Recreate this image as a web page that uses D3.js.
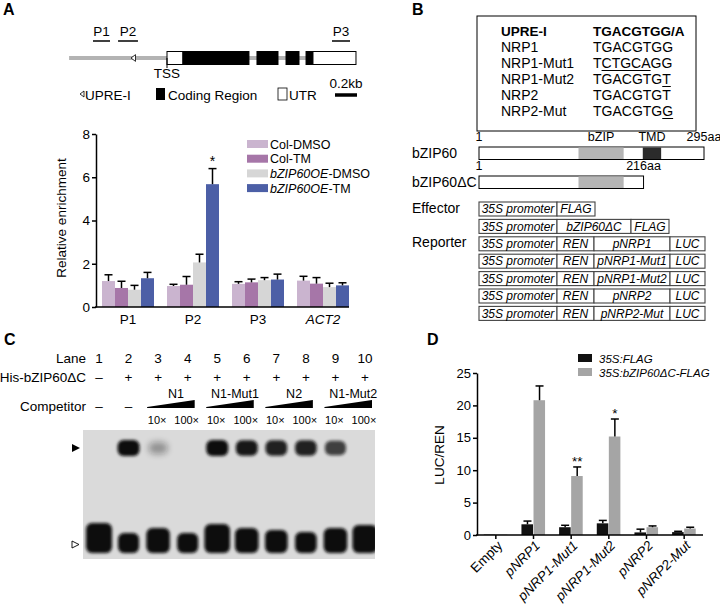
<!DOCTYPE html>
<html>
<head>
<meta charset="utf-8">
<script src="https://cdn.jsdelivr.net/npm/d3@7/dist/d3.min.js"></script>
<style>
  body { margin: 0; background: #fff; }
  svg { font-family: Arial, "Liberation Sans", sans-serif; }
</style>
</head>
<body>
<svg id="fig" width="720" height="605"></svg>
<script>
// ---------- A: gene model (bp relative to TSS) ----------
const geneSpan = [-890, 1718];
const upreSite = -309;
const exonTypes = ['utr', 'cds', 'cds', 'cds', 'cds', 'utr'];
const exonStarts = [0, 145, 818, 1082, 1264, 1327];
const exonEnds = [145, 745, 1009, 1200, 1327, 1718];
const primerNames = ['P1', 'P2', 'P3'];
const primerStarts = [-673, -445, 1500];
const primerEnds = [-518, -264, 1664];

// ---------- A: ChIP-qPCR ----------
const chipSites = ['P1', 'P2', 'P3', 'ACT2'];
const chipSeries = ['Col-DMSO', 'Col-TM', 'bZIP60OE-DMSO', 'bZIP60OE-TM'];
const chipMean = [
  [1.2, 0.88, 0.8, 1.33],
  [0.97, 1.03, 2.06, 5.68],
  [1.07, 1.14, 1.24, 1.27],
  [1.22, 1.08, 0.92, 1.0]
];
const chipErr = [
  [0.29, 0.31, 0.2, 0.27],
  [0.08, 0.38, 0.38, 0.72],
  [0.1, 0.15, 0.12, 0.25],
  [0.2, 0.28, 0.18, 0.12]
];
const chipStars = [['', '', '', ''], ['', '', '', '*'], ['', '', '', ''], ['', '', '', '']];
const chipYTicks = [0, 2, 4, 6, 8];

// ---------- B: motifs and constructs ----------
const motifNames = ['NRP1', 'NRP1-Mut1', 'NRP1-Mut2', 'NRP2', 'NRP2-Mut'];
const motifSeqs = ['TGACGTGG', 'TCTGCAGG', 'TGACGTGT', 'TGACGTGT', 'TGACGTGG'];
const motifMutated = [null, [1, 6], [7, 8], null, [7, 8]];
const proteinNames = ['bZIP60', 'bZIP60\u0394C'];
const proteinLengths = [295, 216];
const bzipDomain = [131, 190];
const tmdDomain = [215, 239];
const constructs = [
  ['35S promoter', 'FLAG'],
  ['35S promoter', 'bZIP60\u0394C', 'FLAG'],
  ['35S promoter', 'REN', 'pNRP1', 'LUC'],
  ['35S promoter', 'REN', 'pNRP1-Mut1', 'LUC'],
  ['35S promoter', 'REN', 'pNRP1-Mut2', 'LUC'],
  ['35S promoter', 'REN', 'pNRP2', 'LUC'],
  ['35S promoter', 'REN', 'pNRP2-Mut', 'LUC']
];

// ---------- C: EMSA ----------
const lanes = [1, 2, 3, 4, 5, 6, 7, 8, 9, 10];
const proteinAdded = ['\u2013', '+', '+', '+', '+', '+', '+', '+', '+', '+'];
const competitorNames = ['N1', 'N1-Mut1', 'N2', 'N1-Mut2'];
const competitorLanes = [[3, 4], [5, 6], [7, 8], [9, 10]];
const competitorDose = ['', '', '10\u00d7', '100\u00d7', '10\u00d7', '100\u00d7', '10\u00d7', '100\u00d7', '10\u00d7', '100\u00d7'];
const shiftedBand = [0, 1, 0.35, 0, 1, 0.95, 0.9, 0.9, 0.75, 0];
const freeProbe = [1, 0.5, 0.75, 0.5, 0.95, 0.75, 0.65, 0.55, 0.75, 0.9];

// ---------- D: dual luciferase ----------
const lucGroups = ['Empty', 'pNRP1', 'pNRP1-Mut1', 'pNRP1-Mut2', 'pNRP2', 'pNRP2-Mut'];
const lucSeries = ['35S:FLAG', '35S:bZIP60\u0394C-FLAG'];
const lucMean = [[0.06, 0.06], [1.65, 20.8], [1.2, 9.1], [1.8, 15.2], [0.4, 1.2], [0.45, 1.0]];
const lucErr = [[0, 0], [0.5, 2.2], [0.3, 1.4], [0.45, 2.7], [0.5, 0.2], [0.12, 0.2]];
const lucStars = [['', ''], ['', ''], ['', '**'], ['', '*'], ['', ''], ['', '']];
const lucYTicks = [0, 5, 10, 15, 20, 25];

const chipColors = ['#cab4cf', '#a676a8', '#d6d6d6', '#4c5fa6'];
const lucColors = ['#111111', '#a5a5a5'];

const svg = d3.select('#fig');
const defs = svg.append('defs');
[['blurBand', 1.6], ['blurFaint', 3]].forEach(([id, s]) => {
  defs.append('filter').attr('id', id).attr('x', '-50%').attr('y', '-50%')
    .attr('width', '200%').attr('height', '200%')
    .append('feGaussianBlur').attr('stdDeviation', s);
});

// panel letters
svg.selectAll('text.panel').data([['A', 3, 15], ['B', 412, 15], ['C', 4, 345], ['D', 427, 345]]).join('text')
  .classed('panel', true)
  .attr('x', (d) => d[1]).attr('y', (d) => d[2])
  .attr('font-size', 16).attr('font-weight', 'bold').text((d) => d[0]);

// ================= A: gene model =================
const xGene = d3.scaleLinear().domain([0, 1000]).range([167, 277]);
const gA = svg.append('g');
gA.append('line').attr('x1', xGene(geneSpan[0])).attr('x2', xGene(geneSpan[1]))
  .attr('y1', 58).attr('y2', 58).attr('stroke', '#b3b3b3').attr('stroke-width', 4);
const exons = exonTypes.map((t, i) => ({ type: t, start: exonStarts[i], end: exonEnds[i] }));
gA.selectAll('rect.exon').data(exons).join('rect').classed('exon', true)
  .attr('x', (d) => xGene(d.start)).attr('width', (d) => xGene(d.end) - xGene(d.start))
  .attr('y', 51.5).attr('height', 13)
  .attr('fill', (d) => (d.type === 'cds' ? '#000' : '#fff'))
  .attr('stroke', '#000').attr('stroke-width', 1);
function leftTri(x, y, s) {
  return `M${x},${y} L${x + s},${y - s * 0.75} L${x + s},${y + s * 0.75} Z`;
}
gA.append('path').attr('d', leftTri(xGene(upreSite) - 2, 58, 4.5))
  .attr('fill', '#fff').attr('stroke', '#000').attr('stroke-width', 0.8);
const primers = primerNames.map((n, i) => ({ name: n, start: primerStarts[i], end: primerEnds[i] }));
gA.selectAll('text.primer').data(primers).join('text').classed('primer', true)
  .attr('x', (d) => (xGene(d.start) + xGene(d.end)) / 2).attr('y', 36)
  .attr('text-anchor', 'middle').attr('font-size', 13.5).text((d) => d.name);
gA.selectAll('line.primer').data(primers).join('line').classed('primer', true)
  .attr('x1', (d) => xGene(d.start)).attr('x2', (d) => xGene(d.end))
  .attr('y1', 41).attr('y2', 41).attr('stroke', '#000').attr('stroke-width', 1.5);
gA.append('line').attr('x1', xGene(0)).attr('x2', xGene(0)).attr('y1', 58).attr('y2', 68)
  .attr('stroke', '#000').attr('stroke-width', 1);
gA.append('text').attr('x', xGene(0)).attr('y', 78).attr('text-anchor', 'middle')
  .attr('font-size', 13.5).text('TSS');
// legend
gA.append('path').attr('d', leftTri(80, 94, 4)).attr('fill', '#fff').attr('stroke', '#000').attr('stroke-width', 0.8);
gA.append('text').attr('x', 85).attr('y', 99.5).attr('font-size', 13.5).text('UPRE-I');
gA.append('rect').attr('x', 156).attr('y', 88).attr('width', 9).attr('height', 12).attr('fill', '#000');
gA.append('text').attr('x', 168).attr('y', 99.5).attr('font-size', 13.5).text('Coding Region');
gA.append('rect').attr('x', 278).attr('y', 88).attr('width', 9).attr('height', 12)
  .attr('fill', '#fff').attr('stroke', '#000').attr('stroke-width', 0.8);
gA.append('text').attr('x', 289).attr('y', 99.5).attr('font-size', 13.5).text('UTR');
gA.append('line').attr('x1', 335).attr('x2', 335 + xGene(200) - xGene(0)).attr('y1', 95).attr('y2', 95)
  .attr('stroke', '#000').attr('stroke-width', 3.5);
gA.append('text').attr('x', 346).attr('y', 88).attr('text-anchor', 'middle').attr('font-size', 13.5).text('0.2kb');

// ================= A: ChIP bar chart =================
const xA = d3.scaleBand().domain(chipSites).range([102, 349]).paddingInner(0.2).paddingOuter(0);
const xAi = d3.scaleBand().domain(chipSeries).range([0, xA.bandwidth()]);
const yA = d3.scaleLinear().domain([0, 8]).range([307, 134]);
const gChip = svg.append('g');
const chipData = chipSites.flatMap((s, i) => chipSeries.map((k, j) => ({
  site: s, series: k, j, mean: chipMean[i][j], err: chipErr[i][j], star: chipStars[i][j]
})));
gChip.selectAll('rect.bar').data(chipData).join('rect').classed('bar', true)
  .attr('x', (d) => xA(d.site) + xAi(d.series)).attr('width', xAi.bandwidth())
  .attr('y', (d) => yA(d.mean)).attr('height', (d) => yA(0) - yA(d.mean))
  .attr('fill', (d) => chipColors[d.j]);
const chipErrG = gChip.selectAll('g.err').data(chipData).join('g').classed('err', true)
  .attr('transform', (d) => `translate(${xA(d.site) + xAi(d.series) + xAi.bandwidth() / 2},0)`);
chipErrG.append('line').attr('y1', (d) => yA(d.mean)).attr('y2', (d) => yA(d.mean + d.err))
  .attr('stroke', '#000').attr('stroke-width', 1.5);
chipErrG.append('line').attr('x1', -4).attr('x2', 4)
  .attr('y1', (d) => yA(d.mean + d.err)).attr('y2', (d) => yA(d.mean + d.err))
  .attr('stroke', '#000').attr('stroke-width', 1.5);
chipErrG.filter((d) => d.star).append('text').attr('y', (d) => yA(d.mean + d.err) - 3)
  .attr('text-anchor', 'middle').attr('font-size', 14).text((d) => d.star);
const yAxisA = gChip.append('g').attr('transform', 'translate(96,0)')
  .call(d3.axisLeft(yA).tickValues(chipYTicks).tickSize(4).tickSizeOuter(0).tickPadding(2));
yAxisA.selectAll('text').attr('font-size', 13.5).attr('font-family', 'Arial, "Liberation Sans", sans-serif').attr('fill', '#000');
yAxisA.selectAll('line,path').attr('stroke', '#000').attr('stroke-width', 1.5);
gChip.append('line').attr('x1', 95).attr('x2', 349).attr('y1', yA(0)).attr('y2', yA(0))
  .attr('stroke', '#000').attr('stroke-width', 1.5);
gChip.selectAll('text.xl').data(chipSites).join('text').classed('xl', true)
  .attr('x', (d) => xA(d) + xA.bandwidth() / 2).attr('y', 324).attr('text-anchor', 'middle')
  .attr('font-size', 13.5).attr('font-style', (d) => (d === 'ACT2' ? 'italic' : 'normal')).text((d) => d);
gChip.append('text').attr('transform', 'translate(66,218) rotate(-90)').attr('text-anchor', 'middle')
  .attr('font-size', 13.5).text('Relative enrichment');
const legA = gChip.selectAll('g.leg').data(chipSeries).join('g').classed('leg', true)
  .attr('transform', (d, i) => `translate(247,${144 + i * 14.7})`);
legA.append('rect').attr('y', -4).attr('width', 21).attr('height', 8).attr('fill', (d, i) => chipColors[i]);
legA.append('text').attr('x', 23).attr('y', 4.5).attr('font-size', 12.5).each(function (d) {
  const t = d3.select(this);
  if (d.startsWith('bZIP60OE')) {
    t.append('tspan').attr('font-style', 'italic').text('bZIP60OE');
    t.append('tspan').text(d.slice(8));
  } else t.text(d);
});

// ================= B: motif table =================
const gB = svg.append('g');
gB.append('rect').attr('x', 477).attr('y', 16).attr('width', 219).attr('height', 115)
  .attr('fill', 'none').attr('stroke', '#000').attr('stroke-width', 1);
gB.append('text').attr('x', 501).attr('y', 36).attr('font-size', 13.5).attr('font-weight', 'bold').text('UPRE-I');
gB.append('text').attr('x', 593).attr('y', 36).attr('font-size', 13.5).attr('font-weight', 'bold').text('TGACGTGG/A');
const motifRows = gB.selectAll('g.motif').data(motifNames.map((n, i) => ({ name: n, seq: motifSeqs[i], mut: motifMutated[i] })))
  .join('g').classed('motif', true).attr('transform', (d, i) => `translate(0,${52 + i * 16})`);
motifRows.append('text').attr('x', 501).attr('font-size', 14).text((d) => d.name);
motifRows.append('text').attr('class', 'seq').attr('x', 593).attr('font-size', 14).text((d) => d.seq);
motifRows.filter((d) => d.mut).each(function (d) {
  const node = d3.select(this).select('text.seq').node();
  const x0 = 593 + (d.mut[0] > 0 ? node.getSubStringLength(0, d.mut[0]) : 0);
  const x1 = 593 + node.getSubStringLength(0, d.mut[1]);
  d3.select(this).append('line').attr('x1', x0).attr('x2', x1).attr('y1', 2.5).attr('y2', 2.5)
    .attr('stroke', '#000').attr('stroke-width', 1);
});

// ================= B: protein domains =================
const xProt = d3.scaleLinear().domain([1, 295]).range([479, 704]);
const prot = proteinNames.map((n, i) => ({ name: n, len: proteinLengths[i], y: i === 0 ? 147 : 176 }));
const protG = gB.selectAll('g.prot').data(prot).join('g').classed('prot', true);
protG.append('rect').attr('x', xProt(1)).attr('y', (d) => d.y).attr('width', (d) => xProt(d.len) - xProt(1))
  .attr('height', 12.5).attr('fill', '#fff').attr('stroke', '#000').attr('stroke-width', 1);
protG.append('rect').attr('x', xProt(bzipDomain[0])).attr('y', (d) => d.y + 0.5)
  .attr('width', xProt(bzipDomain[1]) - xProt(bzipDomain[0])).attr('height', 11.5).attr('fill', '#b5b5b5');
protG.filter((d) => d.len > tmdDomain[1]).append('rect').attr('x', xProt(tmdDomain[0])).attr('y', (d) => d.y + 0.5)
  .attr('width', xProt(tmdDomain[1]) - xProt(tmdDomain[0])).attr('height', 11.5).attr('fill', '#2b2b2b');
protG.append('text').attr('x', 412).attr('y', (d) => d.y + 11).attr('font-size', 14).text((d) => d.name);
protG.append('text').attr('x', xProt(1)).attr('y', (d) => d.y - 6).attr('text-anchor', 'middle').attr('font-size', 12.5).text('1');
protG.append('text').attr('x', (d) => xProt(d.len)).attr('y', (d) => d.y - 6).attr('text-anchor', 'middle')
  .attr('font-size', 12.5).text((d) => `${d.len}aa`);
gB.append('text').attr('x', (xProt(bzipDomain[0]) + xProt(bzipDomain[1])) / 2).attr('y', 141)
  .attr('text-anchor', 'middle').attr('font-size', 12.5).text('bZIP');
gB.append('text').attr('x', (xProt(tmdDomain[0]) + xProt(tmdDomain[1])) / 2).attr('y', 141)
  .attr('text-anchor', 'middle').attr('font-size', 12.5).text('TMD');

// ================= B: effector / reporter constructs =================
const segWidth = (s) => ({ '35S promoter': 78, 'FLAG': 38, 'bZIP60\u0394C': 74, 'REN': 37, 'LUC': 35 }[s] || 76);
const consG = gB.selectAll('g.cons').data(constructs).join('g').classed('cons', true)
  .attr('transform', (d, i) => `translate(479,${202 + i * 17.4})`);
consG.each(function (row) {
  let x = 0;
  const segs = row.map((s) => { const o = { s, x, w: segWidth(s) }; x += o.w; return o; });
  const g = d3.select(this);
  g.selectAll('rect').data(segs).join('rect').attr('x', (d) => d.x).attr('width', (d) => d.w)
    .attr('height', 14).attr('fill', '#fff').attr('stroke', '#444').attr('stroke-width', 1.1);
  g.selectAll('text').data(segs).join('text').attr('x', (d) => d.x + d.w / 2).attr('y', 11.3)
    .attr('text-anchor', 'middle').attr('font-size', 12).attr('font-style', 'italic').text((d) => d.s);
});
gB.append('text').attr('x', 412).attr('y', 213).attr('font-size', 14).text('Effector');
gB.append('text').attr('x', 412).attr('y', 247).attr('font-size', 14).text('Reporter');

// ================= C: EMSA =================
const xLane = d3.scalePoint().domain(lanes).range([99, 365]);
const gC = svg.append('g');
const rowLabels = [['Lane', 363], ['His-bZIP60\u0394C', 382], ['Competitor', 411]];
gC.selectAll('text.rl').data(rowLabels).join('text').classed('rl', true)
  .attr('x', 86).attr('y', (d) => d[1]).attr('text-anchor', 'end').attr('font-size', 13.5).text((d) => d[0]);
gC.selectAll('text.ln').data(lanes).join('text').classed('ln', true)
  .attr('x', (d) => xLane(d)).attr('y', 363).attr('text-anchor', 'middle').attr('font-size', 13.5).text((d) => d);
gC.selectAll('text.pa').data(lanes).join('text').classed('pa', true)
  .attr('x', (d) => xLane(d)).attr('y', 382).attr('text-anchor', 'middle').attr('font-size', 13.5)
  .text((d, i) => proteinAdded[i]);
gC.selectAll('text.nc').data(lanes.filter((l, i) => !competitorDose[i])).join('text').classed('nc', true)
  .attr('x', (d) => xLane(d)).attr('y', 411).attr('text-anchor', 'middle').attr('font-size', 13.5).text('\u2013');
const comps = competitorNames.map((n, i) => ({ name: n, x0: xLane(competitorLanes[i][0]) - 11, x1: xLane(competitorLanes[i][1]) + 7 }));
gC.selectAll('path.wedge').data(comps).join('path').classed('wedge', true)
  .attr('d', (d) => `M${d.x0},408 L${d.x1},408 L${d.x1},400 L${d.x0},407 Z`).attr('fill', '#000');
gC.selectAll('text.cn').data(comps).join('text').classed('cn', true)
  .attr('x', (d) => (d.x0 + d.x1) / 2 + 5).attr('y', 398).attr('text-anchor', 'middle').attr('font-size', 12.5).text((d) => d.name);
gC.selectAll('text.dose').data(lanes.filter((l, i) => competitorDose[i])).join('text').classed('dose', true)
  .attr('x', (d) => xLane(d) - 1).attr('y', 424).attr('text-anchor', 'middle').attr('font-size', 11)
  .text((d) => competitorDose[d - 1]);

const gelBox = { x0: 83, x1: 375, y0: 430, y1: 559 };
defs.append('clipPath').attr('id', 'gelClip').append('rect')
  .attr('x', gelBox.x0).attr('y', gelBox.y0).attr('width', gelBox.x1 - gelBox.x0).attr('height', gelBox.y1 - gelBox.y0);
const gel = gC.append('g').attr('clip-path', 'url(#gelClip)');
gel.append('rect').attr('x', gelBox.x0).attr('y', gelBox.y0).attr('width', gelBox.x1 - gelBox.x0)
  .attr('height', gelBox.y1 - gelBox.y0).attr('fill', '#dadada');
const shiftY = 448, freeBottom = 553;
const laneData = lanes.map((l, i) => ({ lane: l, shift: shiftedBand[i], free: freeProbe[i] }));
gel.selectAll('rect.shift').data(laneData.filter((d) => d.shift > 0)).join('rect').classed('shift', true)
  .attr('x', (d) => xLane(d.lane) - (9 + 2 * d.shift)).attr('width', (d) => 18 + 4 * d.shift)
  .attr('y', (d) => shiftY - (5 + 3 * d.shift)).attr('height', (d) => 10 + 6 * d.shift)
  .attr('rx', 6).attr('fill', '#0d0d0d').attr('opacity', (d) => d.shift)
  .attr('filter', (d) => (d.shift < 0.5 ? 'url(#blurFaint)' : 'url(#blurBand)'));
gel.selectAll('rect.free').data(laneData).join('rect').classed('free', true)
  .attr('x', (d) => xLane(d.lane) - (8 + 5 * d.free)).attr('width', (d) => 16 + 10 * d.free)
  .attr('y', (d) => freeBottom - (10 + 20 * d.free)).attr('height', (d) => 10 + 20 * d.free)
  .attr('rx', 6).attr('fill', '#0a0a0a').attr('filter', 'url(#blurBand)');
gC.append('path').attr('d', `M72,${shiftY - 4} L80,${shiftY} L72,${shiftY + 4} Z`).attr('fill', '#000');
gC.append('path').attr('d', `M72,${freeBottom - 12} L79,${freeBottom - 8.5} L72,${freeBottom - 5} Z`)
  .attr('fill', '#fff').attr('stroke', '#000').attr('stroke-width', 0.9);

// ================= D: luciferase =================
const xD = d3.scaleBand().domain(lucGroups).range([477, 703]).paddingInner(0.36).paddingOuter(0.18);
const xDi = d3.scaleBand().domain(lucSeries).range([0, xD.bandwidth()]);
const yD = d3.scaleLinear().domain([0, 25]).range([535, 373]);
const gD = svg.append('g');
const lucData = lucGroups.flatMap((g, i) => lucSeries.map((s, j) => ({
  group: g, series: s, j, mean: lucMean[i][j], err: lucErr[i][j], star: lucStars[i][j]
})));
gD.selectAll('rect.bar').data(lucData).join('rect').classed('bar', true)
  .attr('x', (d) => xD(d.group) + xDi(d.series)).attr('width', xDi.bandwidth() - 0.5)
  .attr('y', (d) => yD(d.mean)).attr('height', (d) => yD(0) - yD(d.mean))
  .attr('fill', (d) => lucColors[d.j]);
const lucErrG = gD.selectAll('g.err').data(lucData.filter((d) => d.err > 0)).join('g').classed('err', true)
  .attr('transform', (d) => `translate(${xD(d.group) + xDi(d.series) + xDi.bandwidth() / 2},0)`);
lucErrG.append('line').attr('y1', (d) => yD(d.mean)).attr('y2', (d) => yD(d.mean + d.err))
  .attr('stroke', '#000').attr('stroke-width', 1.5);
lucErrG.append('line').attr('x1', -4).attr('x2', 4)
  .attr('y1', (d) => yD(d.mean + d.err)).attr('y2', (d) => yD(d.mean + d.err))
  .attr('stroke', '#000').attr('stroke-width', 1.5);
lucErrG.filter((d) => d.star).append('text').attr('y', (d) => yD(d.mean + d.err) - 1)
  .attr('text-anchor', 'middle').attr('font-size', 13.5).text((d) => d.star);
const yAxisD = gD.append('g').attr('transform', 'translate(477,0)')
  .call(d3.axisLeft(yD).tickValues(lucYTicks).tickSize(4).tickSizeOuter(0).tickPadding(2));
yAxisD.selectAll('text').attr('font-size', 13).attr('font-family', 'Arial, "Liberation Sans", sans-serif').attr('fill', '#000');
yAxisD.selectAll('line,path').attr('stroke', '#000').attr('stroke-width', 1.5);
const xAxisD = gD.append('g').attr('transform', `translate(0,${yD(0)})`)
  .call(d3.axisBottom(xD).tickSize(4).tickSizeOuter(0).tickFormat(''));
xAxisD.selectAll('line,path').attr('stroke', '#000').attr('stroke-width', 1.5);
xAxisD.select('path').attr('d', `M476,0H703`);
gD.selectAll('text.xl').data(lucGroups).join('text').classed('xl', true)
  .attr('transform', (d) => `translate(${xD(d) + xD.bandwidth() / 2 + 4},${yD(0) + 8}) rotate(-45)`)
  .attr('text-anchor', 'end').attr('dy', '0.35em').attr('font-size', 13.5)
  .attr('font-style', (d) => (d === 'Empty' ? 'normal' : 'italic')).text((d) => d);
gD.append('text').attr('transform', 'translate(444,455) rotate(-90)').attr('text-anchor', 'middle')
  .attr('font-size', 13.5).text('LUC/REN');
const legD = gD.selectAll('g.leg').data(lucSeries).join('g').classed('leg', true)
  .attr('transform', (d, i) => `translate(578,${358 + i * 14})`);
legD.append('rect').attr('y', -4).attr('width', 14).attr('height', 8).attr('fill', (d, i) => lucColors[i]);
legD.append('text').attr('x', 21).attr('y', 4.5).attr('font-size', 11.5).attr('font-style', 'italic').text((d) => d);
</script>
</body>
</html>
